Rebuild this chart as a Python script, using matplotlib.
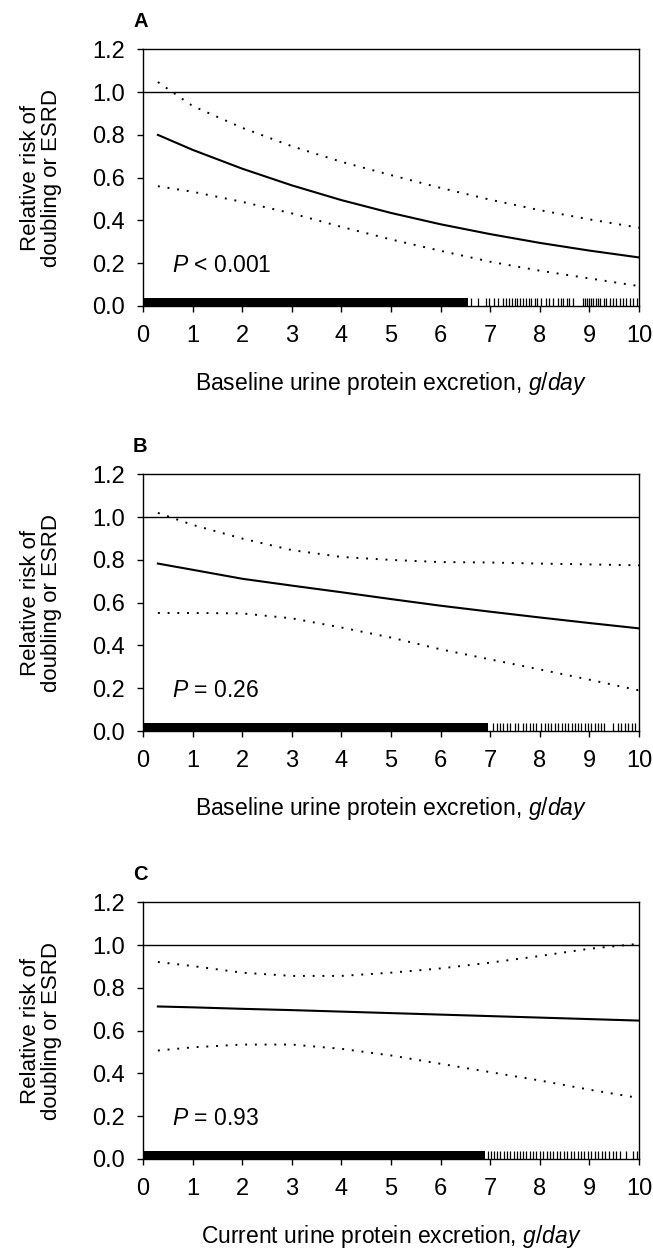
import numpy as np
import matplotlib
matplotlib.use("Agg")
import matplotlib.pyplot as plt

plt.rcParams['font.family'] = ['Liberation Sans', 'DejaVu Sans']
plt.rcParams['mathtext.fontset'] = 'custom'
plt.rcParams['mathtext.rm'] = 'Liberation Sans'
plt.rcParams['mathtext.it'] = 'Liberation Sans:italic'

# protein excretion grid (g/day)
x = [0.3, 1, 2, 3, 4, 5, 6, 7, 8, 9, 10]

# panel A
a_rr = [0.80, 0.73, 0.642, 0.564, 0.495, 0.435, 0.382, 0.336, 0.295, 0.259, 0.227]
a_hi = [1.047, 0.935, 0.833, 0.747, 0.674, 0.612, 0.552, 0.497, 0.448, 0.405, 0.366]
a_lo = [0.56, 0.534, 0.487, 0.433, 0.37, 0.311, 0.258, 0.207, 0.165, 0.129, 0.093]

# panel B
b_rr = [0.783, 0.754, 0.712, 0.68, 0.649, 0.617, 0.586, 0.558, 0.531, 0.505, 0.48]
b_hi = [1.02, 0.964, 0.90, 0.846, 0.814, 0.80, 0.79, 0.788, 0.783, 0.779, 0.775]
b_lo = [0.552, 0.552, 0.55, 0.527, 0.484, 0.437, 0.382, 0.335, 0.288, 0.24, 0.19]

# panel C
c_rr = [0.713, 0.709, 0.702, 0.696, 0.689, 0.682, 0.675, 0.668, 0.661, 0.654, 0.647]
c_hi = [0.921, 0.902, 0.871, 0.856, 0.856, 0.871, 0.891, 0.918, 0.949, 0.983, 1.006]
c_lo = [0.507, 0.522, 0.535, 0.535, 0.515, 0.484, 0.445, 0.406, 0.367, 0.324, 0.285]

# rug: solid band up to dense_end, then individual patients
a_dense_end = 6.56
a_rug = [6.62, 6.76, 6.91, 6.98, 7.08, 7.15, 7.26, 7.32, 7.38, 7.43, 7.50, 7.54,
         7.60, 7.66, 7.72, 7.78, 7.83, 7.90, 7.95, 8.03, 8.13, 8.19, 8.27, 8.37,
         8.42, 8.47, 8.54, 8.59, 8.66, 8.87, 8.91, 8.95, 8.99, 9.04, 9.07, 9.13,
         9.17, 9.22, 9.29, 9.34, 9.41, 9.48, 9.54, 9.61, 9.68, 9.74, 9.81, 9.88, 9.95]
b_dense_end = 6.95
b_rug = [7.06, 7.13, 7.19, 7.26, 7.33, 7.40, 7.50, 7.56, 7.66, 7.73, 7.80, 7.87,
         7.93, 8.03, 8.10, 8.17, 8.23, 8.30, 8.37, 8.44, 8.50, 8.57, 8.64, 8.70,
         8.77, 8.84, 8.91, 8.97, 9.04, 9.11, 9.17, 9.24, 9.30, 9.48, 9.58, 9.64,
         9.71, 9.78, 9.85, 9.91]
c_dense_end = 6.9
c_rug = [6.96, 7.02, 7.08, 7.14, 7.20, 7.27, 7.33, 7.40, 7.47, 7.53, 7.60, 7.66,
         7.73, 7.80, 7.86, 7.93, 8.00, 8.07, 8.14, 8.20, 8.27, 8.34, 8.41, 8.48,
         8.55, 8.62, 8.69, 8.76, 8.83, 8.90, 8.97, 9.04, 9.11, 9.18, 9.25, 9.32,
         9.40, 9.47, 9.54, 9.61, 9.74, 9.88, 9.95]

labels = ["A", "B", "C"]
pvals = [r"$\it{P}$ < 0.001", r"$\it{P}$ = 0.26", r"$\it{P}$ = 0.93"]
xlabels = [r"Baseline urine protein excretion, $\it{g/day}$",
           r"Baseline urine protein excretion, $\it{g/day}$",
           r"Current urine protein excretion, $\it{g/day}$"]

panels = [(a_rr, a_hi, a_lo, a_dense_end, a_rug),
          (b_rr, b_hi, b_lo, b_dense_end, b_rug),
          (c_rr, c_hi, c_lo, c_dense_end, c_rug)]
bottoms = [0.7556, 0.4161, 0.0743]

fig = plt.figure(figsize=(6.53, 12.52), dpi=100)

for i, (rr, hi, lo, dense_end, rug) in enumerate(panels):
    ax = fig.add_axes([0.219, bottoms[i], 0.7596, 0.205])
    ax.axhline(1.0, color='black', lw=1.0)
    ax.plot(x, rr, color='black', lw=1.5)
    ax.plot(x, hi, color='black', lw=1.4, linestyle=(0, (1, 4)))
    ax.plot(x, lo, color='black', lw=1.4, linestyle=(0, (1, 4)))
    ax.fill_between([0.02, dense_end], 0, 0.038, color='black', lw=0)
    ax.vlines(rug, 0, 0.038, color='black', lw=0.9)

    ax.set_xlim(0, 10)
    ax.set_ylim(0, 1.2)
    ax.set_xticks(range(0, 11))
    ax.set_yticks([0, 0.2, 0.4, 0.6, 0.8, 1.0, 1.2])
    ax.set_yticklabels(["0.0", "0.2", "0.4", "0.6", "0.8", "1.0", "1.2"])
    ax.tick_params(direction='out', length=4, width=1, labelsize=17)
    ax.tick_params(axis='x', pad=10)
    ax.tick_params(axis='y', pad=9)
    for s in ax.spines.values():
        s.set_linewidth(1.0)

    ax.set_ylabel("Relative risk of\ndoubling or ESRD", fontsize=16, labelpad=22,
                  linespacing=0.95)
    ax.set_xlabel(xlabels[i], fontsize=16.5, labelpad=16)
    ax.text(0.58, 0.19, pvals[i], fontsize=16.5, va='center')
    ax.text(-0.02, 1.07, labels[i], transform=ax.transAxes, fontsize=14.5,
            fontweight='bold', va='bottom')

fig.savefig("out.png", dpi=100)
